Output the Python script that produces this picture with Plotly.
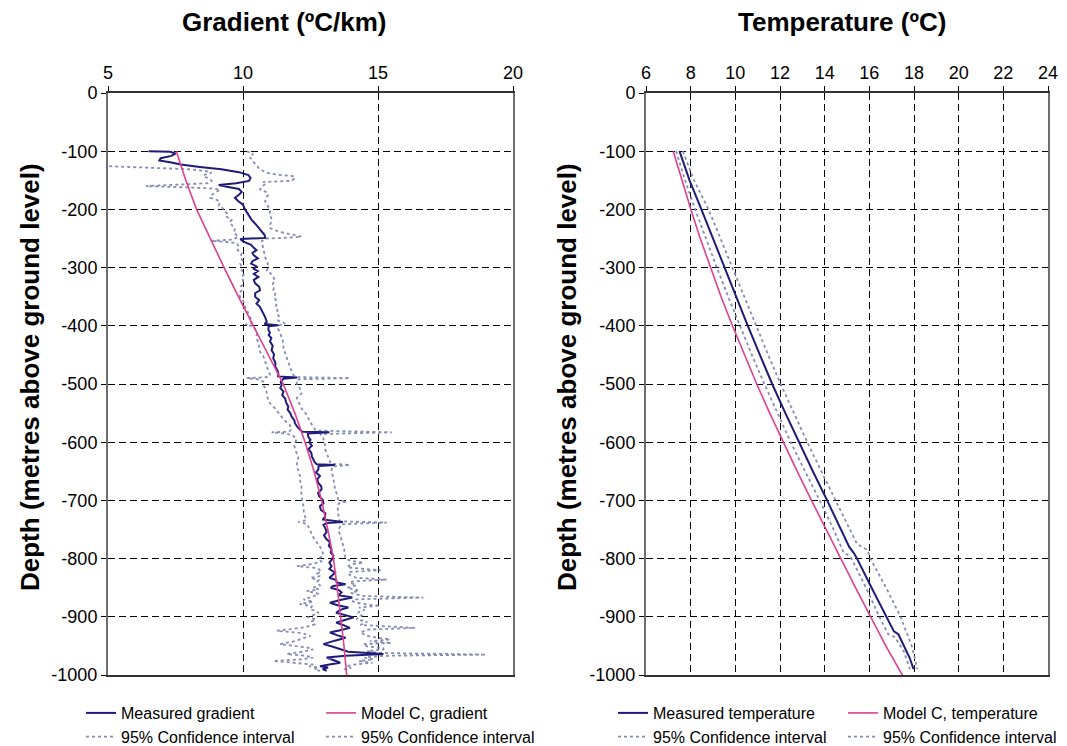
import plotly.graph_objects as go

# ---------------- data: gradient panel ----------------
grad_meas_depth = [-100, -101, -104, -108, -112, -116, -119, -123, -127, -131, -136, -141, -146, -151, -155, -158,
                   -161, -165, -170, -175, -180, -186, -192, -200, -209, -218, -227, -235, -244, -249, -251, -255,
                   -261, -266, -270, -275, -279, -284, -289, -293, -298, -302, -306, -311, -316, -321, -327, -333,
                   -339, -344, -350, -356, -362, -367, -373, -379, -385, -393, -397, -399, -401, -407, -412, -416,
                   -421, -427, -434, -442, -449, -456, -463, -470, -477, -482, -487, -489, -491, -496, -502, -507,
                   -513, -519, -525, -532, -539, -544, -550, -556, -562, -567, -573, -578, -582, -583, -585, -591,
                   -596, -600, -606, -612, -616, -620, -625, -629, -634, -638, -639, -641, -647, -652, -658, -664,
                   -670, -676, -681, -687, -693, -699, -705, -710, -716, -722, -728, -733, -737, -739, -742, -748,
                   -754, -760, -766, -772, -778, -784, -790, -795, -801, -807, -813, -818, -824, -829, -833, -837,
                   -841, -844, -847, -850, -854, -858, -863, -867, -871, -876, -880, -884, -888, -893, -897, -901,
                   -905, -910, -914, -919, -923, -927, -932, -936, -941, -947, -951, -956, -960, -964, -967, -970,
                   -975, -979, -982, -985, -987, -990, -993]
grad_meas = [6.50, 7.30, 7.50, 7.35, 6.95, 6.90, 7.30, 7.70, 8.40, 9.20, 9.85, 10.20, 10.28, 10.22, 9.75, 9.10,
             9.40, 9.85, 9.95, 9.85, 9.70, 9.83, 10.00, 10.07, 10.20, 10.32, 10.50, 10.63, 10.80, 10.82, 9.90, 10.00,
             10.30, 10.40, 10.50, 10.35, 10.40, 10.55, 10.35, 10.30, 10.50, 10.40, 10.55, 10.40, 10.57, 10.40, 10.45, 10.60,
             10.63, 10.45, 10.45, 10.60, 10.50, 10.62, 10.69, 10.75, 10.82, 10.88, 10.80, 11.30, 10.95, 10.94, 11.00, 10.95,
             11.05, 11.00, 11.10, 11.06, 11.15, 11.12, 11.20, 11.19, 11.28, 11.31, 11.30, 12.00, 11.50, 11.40, 11.43, 11.38,
             11.50, 11.45, 11.56, 11.60, 11.68, 11.65, 11.75, 11.80, 11.90, 11.92, 12.00, 12.10, 12.20, 13.20, 12.40, 12.42,
             12.50, 12.45, 12.55, 12.42, 12.50, 12.54, 12.55, 12.60, 12.65, 12.73, 13.40, 12.80, 12.79, 12.70, 12.85, 12.75,
             12.79, 12.90, 12.91, 12.78, 12.82, 12.95, 12.98, 12.85, 12.88, 13.05, 13.04, 12.95, 13.70, 13.10, 12.98, 13.05,
             13.10, 13.00, 13.08, 13.22, 13.18, 13.28, 13.25, 13.35, 13.30, 13.20, 13.28, 13.20, 13.41, 13.30, 13.20, 13.45,
             13.47, 13.80, 13.35, 13.25, 13.55, 13.65, 13.55, 14.05, 13.60, 13.22, 13.50, 13.90, 13.60, 13.45, 13.75, 14.10,
             13.80, 13.45, 13.70, 13.96, 13.60, 13.22, 13.50, 13.80, 13.40, 12.98, 13.30, 13.60, 13.90, 15.20, 13.80, 13.10,
             13.40, 13.60, 13.20, 12.85, 13.15, 12.95, 13.10]

grad_lo_depth = [-125, -128, -131, -134, -137, -140, -143, -147, -151, -155, -158, -160, -162, -164, -166, -170,
                 -175, -180, -184, -188, -193, -198, -203, -208, -213, -218, -223, -229, -234, -240, -247, -252,
                 -254, -256, -258, -264, -270, -276, -282, -288, -293, -299, -305, -311, -316, -322, -327, -333,
                 -339, -345, -350, -356, -362, -367, -373, -379, -385, -391, -396, -398, -400, -405, -413, -420,
                 -425, -430, -437, -445, -452, -459, -465, -472, -478, -484, -488, -490, -492, -496, -502, -509,
                 -516, -523, -530, -536, -542, -549, -556, -563, -571, -578, -582, -583, -585, -589, -594, -600,
                 -606, -612, -619, -626, -633, -641, -649, -658, -667, -676, -684, -693, -701, -710, -719, -728,
                 -734, -737, -740, -745, -754, -763, -770, -777, -784, -790, -795, -800, -805, -809, -813, -816,
                 -818, -822, -826, -830, -833, -837, -841, -846, -850, -853, -856, -859, -861, -866, -870, -874,
                 -878, -882, -887, -890, -893, -897, -901, -904, -908, -913, -918, -921, -924, -928, -933, -937,
                 -941, -945, -947, -950, -953, -956, -960, -964, -967, -970, -973, -976, -979, -982, -985, -987,
                 -990, -993]
grad_lo = [4.60, 6.50, 8.00, 8.60, 8.84, 8.60, 8.53, 8.75, 8.84, 8.70, 7.50, 6.40, 7.80, 8.90, 9.15, 9.00,
           8.85, 8.78, 9.05, 9.15, 9.10, 9.25, 9.30, 9.45, 9.40, 9.58, 9.50, 9.64, 9.70, 9.65, 9.83, 9.60,
           8.80, 9.40, 9.77, 9.85, 9.80, 9.95, 9.90, 9.98, 9.90, 9.95, 9.95, 10.05, 9.95, 10.00, 10.01, 9.92,
           9.95, 9.85, 9.89, 10.00, 10.05, 10.07, 10.15, 10.20, 10.25, 10.35, 10.30, 10.08, 10.30, 10.45, 10.51, 10.50,
           10.55, 10.57, 10.60, 10.63, 10.75, 10.82, 10.85, 10.90, 10.95, 11.00, 10.95, 10.14, 10.60, 10.75, 10.75, 10.85,
           10.88, 10.90, 10.94, 11.05, 11.19, 11.30, 11.43, 11.55, 11.74, 11.80, 11.70, 11.06, 11.60, 11.85, 11.99, 11.95,
           11.90, 11.93, 12.00, 12.05, 12.00, 11.99, 12.05, 12.11, 12.12, 12.17, 12.15, 12.17, 12.20, 12.24, 12.25, 12.30,
           12.35, 12.05, 12.35, 12.42, 12.50, 12.60, 12.70, 12.82, 12.91, 12.95, 12.98, 12.80, 12.90, 12.60, 12.00, 12.70,
           12.80, 12.90, 12.75, 12.85, 12.50, 12.80, 12.73, 12.85, 12.60, 12.80, 12.36, 12.70, 12.80, 12.55, 12.24, 12.60,
           12.10, 12.55, 12.48, 12.70, 12.80, 12.60, 12.40, 12.70, 12.55, 12.65, 12.30, 11.80, 11.25, 12.20, 12.50, 12.20,
           12.00, 11.60, 11.37, 11.90, 12.40, 12.60, 12.20, 11.62, 12.30, 12.60, 12.20, 11.12, 12.00, 12.60, 12.45, 12.80,
           12.65, 12.85]

grad_hi_depth = [-100, -103, -105, -108, -111, -115, -119, -125, -130, -134, -137, -140, -143, -146, -149, -151,
                 -153, -156, -160, -166, -170, -175, -180, -186, -192, -198, -203, -209, -215, -221, -226, -232,
                 -238, -244, -247, -249, -250, -255, -262, -270, -276, -282, -290, -299, -305, -311, -316, -322,
                 -328, -334, -339, -345, -351, -356, -362, -368, -373, -379, -385, -391, -396, -399, -405, -413,
                 -421, -430, -438, -447, -456, -465, -472, -478, -484, -488, -490, -492, -499, -507, -516, -524,
                 -530, -536, -542, -548, -553, -559, -565, -570, -574, -580, -583, -586, -590, -594, -600, -606,
                 -612, -619, -626, -633, -637, -639, -642, -649, -656, -664, -672, -681, -690, -699, -702, -705,
                 -710, -718, -725, -732, -736, -738, -741, -746, -751, -757, -763, -767, -775, -784, -790, -795,
                 -800, -804, -807, -810, -815, -820, -823, -828, -833, -836, -839, -841, -846, -850, -855, -859,
                 -864, -867, -870, -873, -876, -879, -881, -884, -888, -893, -898, -904, -909, -914, -919, -922,
                 -927, -933, -939, -942, -945, -947, -951, -954, -956, -959, -962, -965, -967, -970, -973, -976,
                 -979, -982, -985, -988, -991]
grad_hi = [10.14, 10.30, 10.38, 10.25, 10.26, 10.35, 10.40, 10.51, 10.60, 10.75, 10.88, 11.20, 11.86, 11.93, 11.85, 11.80,
           10.75, 10.85, 10.70, 10.63, 10.85, 10.94, 10.85, 10.82, 10.90, 10.95, 11.00, 10.98, 11.05, 11.06, 11.00, 11.00,
           11.30, 11.90, 12.17, 11.50, 10.82, 10.69, 10.72, 10.75, 10.80, 10.82, 10.90, 10.94, 10.88, 11.05, 11.12, 11.19,
           11.10, 11.15, 11.12, 11.20, 11.15, 11.22, 11.25, 11.20, 11.28, 11.25, 11.35, 11.30, 11.56, 11.35, 11.30, 11.37,
           11.45, 11.49, 11.50, 11.56, 11.62, 11.68, 11.75, 11.80, 11.85, 11.95, 13.96, 12.00, 11.99, 12.10, 12.17, 11.99,
           12.05, 12.10, 12.17, 12.28, 12.36, 12.42, 12.48, 12.55, 12.60, 12.70, 15.51, 12.85, 12.95, 12.98, 13.00, 13.05,
           13.04, 13.10, 13.16, 13.20, 13.25, 13.96, 13.30, 13.28, 13.32, 13.35, 13.38, 13.41, 13.48, 13.53, 13.84, 13.55,
           13.50, 13.52, 13.53, 13.55, 13.60, 15.32, 13.65, 13.60, 13.53, 13.58, 13.62, 13.66, 13.70, 13.75, 13.75, 13.78,
           13.80, 14.00, 14.46, 14.00, 13.85, 15.10, 13.90, 13.95, 14.20, 15.32, 14.10, 13.95, 14.20, 13.85, 14.30, 14.00,
           14.40, 16.68, 14.20, 14.05, 14.20, 14.60, 15.07, 14.30, 14.50, 14.25, 14.40, 14.20, 14.60, 14.35, 16.37, 14.60,
           14.35, 14.60, 15.45, 14.70, 15.50, 14.45, 14.60, 15.20, 15.20, 14.60, 15.00, 19.00, 15.20, 14.50, 14.83, 14.30,
           14.80, 14.10, 13.85, 14.00, 13.70]

model_grad_depth = [-100, -150, -200, -250, -300, -350, -400, -450, -500, -550, -600, -650, -700, -750, -800,
                    -850, -900, -950, -1005]
model_grad = [7.53, 7.88, 8.28, 8.78, 9.30, 9.83, 10.38, 10.93, 11.49, 11.92, 12.30, 12.63, 12.91, 13.14, 13.35,
              13.49, 13.62, 13.74, 13.85]

# ---------------- data: temperature panel ----------------
temp_meas_depth = [-100, -150, -200, -250, -300, -350, -400, -450, -500, -550, -600, -650, -700, -750, -780,
                   -790, -800, -850, -900, -925, -930, -950, -970, -990]
temp_meas = [7.50, 7.95, 8.48, 9.00, 9.50, 10.03, 10.56, 11.10, 11.65, 12.24, 12.84, 13.47, 14.11, 14.75, 15.10,
             15.30, 15.45, 16.10, 16.78, 17.10, 17.30, 17.55, 17.80, 17.98]

temp_lo_depth = [-100, -150, -200, -250, -300, -350, -400, -450, -500, -550, -600, -650, -700, -750, -790,
                 -795, -800, -850, -900, -930, -935, -960, -990]
temp_lo = [7.35, 7.75, 8.20, 8.68, 9.17, 9.68, 10.20, 10.74, 11.30, 11.88, 12.48, 13.12, 13.78, 14.40, 14.85,
           15.10, 15.20, 15.85, 16.45, 16.85, 17.15, 17.55, 17.82]

temp_hi_depth = [-100, -150, -200, -250, -300, -350, -400, -450, -500, -550, -600, -650, -700, -750, -775,
                 -785, -800, -850, -900, -950, -990]
temp_hi = [7.65, 8.15, 8.80, 9.33, 9.85, 10.38, 10.92, 11.47, 12.03, 12.62, 13.22, 13.85, 14.48, 15.12, 15.45,
           15.90, 16.05, 16.75, 17.40, 17.90, 18.15]

model_temp_depth = [-100, -150, -200, -250, -300, -350, -400, -450, -500, -550, -600, -650, -700, -750, -800,
                    -850, -900, -950, -1005]
model_temp = [7.22, 7.61, 8.01, 8.43, 8.88, 9.36, 9.87, 10.40, 10.96, 11.54, 12.14, 12.77, 13.41, 14.06, 14.72,
              15.38, 16.06, 16.74, 17.55]

depth_ticks = [0, -100, -200, -300, -400, -500, -600, -700, -800, -900, -1000]
depth_labels = ["0", "-100", "-200", "-300", "-400", "-500", "-600", "-700", "-800", "-900", "-1000"]

NAVY = "#1f1b7a"
PINK = "#e0408e"
CI = "#858cb6"
FONT = "Liberation Sans, Arial, sans-serif"

# the page body has an 8px margin, so the figure is drawn 8px in from the window corner
OFF = 8
W, H = 1067 - OFF, 746


def xp(px):
    return (px - OFF) / W


def yp(py):
    return 1 - (py - OFF) / H


fig = go.Figure()


def add(x, y, name, color, width, dash, xa, ya, legend, rank):
    fig.add_trace(go.Scatter(x=x, y=y, mode="lines", name=name, xaxis=xa, yaxis=ya,
                             line=dict(color=color, width=width, dash=dash),
                             legend=legend, legendrank=rank, hoverinfo="skip"))


# gradient panel
add(grad_lo, grad_lo_depth, "95% Confidence interval", CI, 1.8, "dot", "x", "y", "legend", 2)
add(grad_hi, grad_hi_depth, "95% Confidence interval", CI, 1.8, "dot", "x", "y", "legend2", 2)
add(grad_meas, grad_meas_depth, "Measured gradient", NAVY, 2, "solid", "x", "y", "legend", 1)
add(model_grad, model_grad_depth, "Model C, gradient", PINK, 1.6, "solid", "x", "y", "legend2", 1)

# temperature panel
add(temp_lo, temp_lo_depth, "95% Confidence interval", CI, 1.8, "dot", "x2", "y2", "legend3", 2)
add(temp_hi, temp_hi_depth, "95% Confidence interval", CI, 1.8, "dot", "x2", "y2", "legend4", 2)
add(temp_meas, temp_meas_depth, "Measured temperature", NAVY, 2, "solid", "x2", "y2", "legend3", 1)
add(model_temp, model_temp_depth, "Model C, temperature", PINK, 1.6, "solid", "x2", "y2", "legend4", 1)

ydom = [yp(675), yp(93)]

xcommon = dict(side="top", showgrid=True, gridcolor="black", griddash="7px,4px", gridwidth=1,
               showline=True, linecolor="#333333", linewidth=1.5, mirror=True, zeroline=False,
               ticks="outside", ticklen=5, tickcolor="black",
               tickfont=dict(family=FONT, size=18, color="black"))
ycommon = dict(range=[-1000, 0], tickvals=depth_ticks, ticktext=depth_labels,
               showgrid=True, gridcolor="black", griddash="7px,4px", gridwidth=1,
               showline=True, linecolor="#6e6e6e", linewidth=2, mirror=True, zeroline=False,
               ticks="outside", ticklen=5, tickcolor="black",
               tickfont=dict(family=FONT, size=18, color="black"))

legend_common = dict(orientation="v", yanchor="top", xanchor="left", y=yp(696),
                     bgcolor="rgba(0,0,0,0)", borderwidth=0,
                     font=dict(family=FONT, size=16, color="black"), traceorder="normal")

fig.update_layout(
    width=W, height=H,
    margin=dict(l=0, r=0, t=0, b=0, autoexpand=False),
    paper_bgcolor="white", plot_bgcolor="white",
    font=dict(family=FONT, color="black"),
    xaxis=dict(domain=[xp(108), xp(513)], range=[5, 20], tickvals=[5, 10, 15, 20], anchor="y", **xcommon),
    yaxis=dict(domain=ydom, anchor="x", **ycommon),
    xaxis2=dict(domain=[xp(646), xp(1048)], range=[6, 24], tickvals=[6, 8, 10, 12, 14, 16, 18, 20, 22, 24],
                anchor="y2", **xcommon),
    yaxis2=dict(domain=ydom, anchor="x2", **ycommon),
    legend=dict(x=xp(81), **legend_common),
    legend2=dict(x=xp(321), **legend_common),
    legend3=dict(x=xp(613), **legend_common),
    legend4=dict(x=xp(843), **legend_common),
    hovermode=False,
    annotations=[
        dict(text="<b>Gradient (ºC/km)</b>", x=xp(285), y=yp(22), xref="paper", yref="paper",
             showarrow=False, xanchor="center", yanchor="middle", font=dict(family=FONT, size=26)),
        dict(text="<b>Temperature (ºC)</b>", x=xp(842), y=yp(22), xref="paper", yref="paper",
             showarrow=False, xanchor="center", yanchor="middle", font=dict(family=FONT, size=26)),
        dict(text="<b>Depth (metres above ground level)</b>", x=xp(30), y=yp(377), xref="paper",
             yref="paper", showarrow=False, textangle=-90, xanchor="center", yanchor="middle",
             font=dict(family=FONT, size=26)),
        dict(text="<b>Depth (metres above ground level)</b>", x=xp(567), y=yp(377), xref="paper",
             yref="paper", showarrow=False, textangle=-90, xanchor="center", yanchor="middle",
             font=dict(family=FONT, size=26)),
    ],
)

fig.write_html("out.html")
